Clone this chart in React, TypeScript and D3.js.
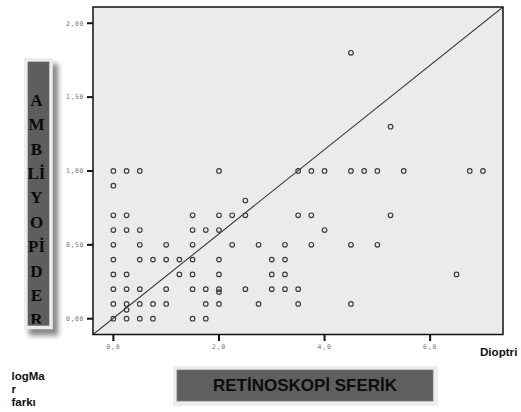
import React from "react";
import * as d3 from "d3";

// Data: Retinoskopi sferik (Dioptri) vs logMAR farkı
const retinoskopi: number[] = [
  0, 0, 0, 0, 0, 0, 0, 0, 0, 0,
  0.25, 0.25, 0.25, 0.25, 0.25, 0.25, 0.25, 0.25,
  0.5, 0.5, 0.5, 0.5, 0.5, 0.5, 0.5,
  0.75, 0.75, 0.75,
  1.0, 1.0, 1.0, 1.0,
  1.25, 1.25,
  1.5, 1.5, 1.5, 1.5, 1.5, 1.5, 1.5,
  1.75, 1.75, 1.75, 1.75,
  2.0, 2.0, 2.0, 2.0, 2.0, 2.0, 2.0, 2.0,
  2.25, 2.25,
  2.5, 2.5, 2.5,
  2.75, 2.75,
  3.0, 3.0, 3.0,
  3.25, 3.25, 3.25, 3.25,
  3.5, 3.5, 3.5, 3.5,
  3.75, 3.75, 3.75,
  4.0, 4.0,
  4.5, 4.5, 4.5, 4.5,
  4.75,
  5.0, 5.0,
  5.25, 5.25,
  5.5,
  6.5,
  6.75,
  7.0,
];
const logmar: number[] = [
  1.0, 0.9, 0.7, 0.6, 0.5, 0.4, 0.3, 0.2, 0.1, 0.0,
  1.0, 0.7, 0.6, 0.3, 0.2, 0.1, 0.06, 0.0,
  1.0, 0.6, 0.5, 0.4, 0.2, 0.1, 0.0,
  0.4, 0.1, 0.0,
  0.5, 0.4, 0.2, 0.1,
  0.4, 0.3,
  0.7, 0.6, 0.5, 0.4, 0.3, 0.2, 0.0,
  0.6, 0.2, 0.1, 0.0,
  1.0, 0.7, 0.6, 0.4, 0.3, 0.2, 0.18, 0.1,
  0.7, 0.5,
  0.8, 0.7, 0.2,
  0.5, 0.1,
  0.4, 0.3, 0.2,
  0.5, 0.4, 0.3, 0.2,
  1.0, 0.7, 0.2, 0.1,
  1.0, 0.7, 0.5,
  1.0, 0.6,
  1.8, 1.0, 0.5, 0.1,
  1.0,
  1.0, 0.5,
  1.3, 0.7,
  1.0,
  0.3,
  1.0,
  1.0,
];

const xTicks: number[] = [0, 2, 4, 6];
const xTickLabels: string[] = ["0,0", "2,0", "4,0", "6,0"];
const yTicks: number[] = [0, 0.5, 1.0, 1.5, 2.0];
const yTickLabels: string[] = ["0,00", "0,50", "1,00", "1,50", "2,00"];

const yTitleLines: string[] = ["A", "M", "B", "Lİ", "Y", "O", "Pİ", "D", "E", "R"];
const xTitle = "RETİNOSKOPİ SFERİK";
const unitLabel = "Dioptri";
const yUnitLines: string[] = ["logMa", "r", "farkı"];

const W = 521;
const H = 412;
const plot = { left: 93, right: 503, top: 7, bottom: 334.5 };

export default function App() {
  const x = d3.scaleLinear().domain([-0.386, 7.38]).range([plot.left, plot.right]);
  const y = d3.scaleLinear().domain([-0.107, 2.11]).range([plot.bottom, plot.top]);
  const [x0, x1] = x.domain();
  const [y0, y1] = y.domain();
  const diag = d3.line<[number, number]>().x((d) => x(d[0])).y((d) => y(d[1]));

  const mono = "'DejaVu Sans Mono', monospace";
  const sans = "'Liberation Sans', Arial, sans-serif";
  const serif = "'Liberation Serif', 'Times New Roman', serif";

  const lb = { x: 27.7, y: 61.7, w: 21.6, h: 264 };

  return (
    <svg
      width={W}
      height={H}
      viewBox={`0 0 ${W} ${H}`}
      style={{ position: "absolute", left: 0, top: 0, background: "#fff" }}
    >
      <defs>
        <filter id="sh" x="-50%" y="-50%" width="200%" height="200%">
          <feGaussianBlur stdDeviation="2.5" />
        </filter>
        <clipPath id="lbclip">
          <rect x={lb.x} y={lb.y} width={lb.w} height={lb.h - 2} />
        </clipPath>
        <clipPath id="plotclip">
          <rect x={plot.left} y={plot.top} width={plot.right - plot.left} height={plot.bottom - plot.top} />
        </clipPath>
      </defs>

      {/* plot area */}
      <rect
        x={plot.left}
        y={plot.top}
        width={plot.right - plot.left}
        height={plot.bottom - plot.top}
        fill="#ebebeb"
      />
      <path
        d={diag([[x0, y0], [x1, y1]]) || ""}
        stroke="#3a3a3a"
        strokeWidth={1.1}
        fill="none"
        clipPath="url(#plotclip)"
      />
      {retinoskopi.map((v, i) => (
        <circle
          key={i}
          cx={x(v)}
          cy={y(logmar[i])}
          r={2.3}
          fill="none"
          stroke="#3c3c3c"
          strokeWidth={1.15}
        />
      ))}
      <rect
        x={plot.left}
        y={plot.top}
        width={plot.right - plot.left}
        height={plot.bottom - plot.top}
        fill="none"
        stroke="#111"
        strokeWidth={1.5}
      />

      {/* y axis ticks */}
      {yTicks.map((t, i) => (
        <g key={"y" + i}>
          <line x1={plot.left - 6} x2={plot.left} y1={y(t)} y2={y(t)} stroke="#111" strokeWidth={2} />
          <text
            x={84}
            y={y(t) + 2.3}
            textAnchor="end"
            fontFamily={mono}
            fontSize={6.5}
            letterSpacing={0.6}
            fill="#777"
          >
            {yTickLabels[i]}
          </text>
        </g>
      ))}

      {/* x axis ticks */}
      {xTicks.map((t, i) => (
        <g key={"x" + i}>
          <line x1={x(t)} x2={x(t)} y1={plot.bottom} y2={plot.bottom + 6.5} stroke="#111" strokeWidth={2} />
          <text
            x={x(t)}
            y={349}
            textAnchor="middle"
            fontFamily={mono}
            fontSize={6.5}
            letterSpacing={0.8}
            fill="#777"
          >
            {xTickLabels[i]}
          </text>
        </g>
      ))}

      <text x={480} y={356} fontFamily={sans} fontWeight="bold" fontSize={11.6} fill="#111">
        {unitLabel}
      </text>

      {/* left vertical title box */}
      <rect x={lb.x + 1} y={lb.y + 2} width={lb.w + 8} height={lb.h + 8} fill="#8a8a8a" filter="url(#sh)" />
      <rect x={lb.x - 3.5} y={lb.y - 3.5} width={lb.w + 7} height={lb.h + 7} fill="#ececec" />
      <rect x={lb.x} y={lb.y} width={lb.w} height={lb.h} fill="#5e5e5e" />
      <g clipPath="url(#lbclip)">
        {yTitleLines.map((s, i) => (
          <text
            key={i}
            x={36.5}
            y={100 + i * 24.4 + 5.8}
            textAnchor="middle"
            fontFamily={serif}
            fontWeight="bold"
            fontSize={17}
            fill="#0a0a0a"
          >
            {s}
          </text>
        ))}
      </g>

      {/* y unit label */}
      {yUnitLines.map((s, i) => (
        <text
          key={"u" + i}
          x={11.5}
          y={380 + i * 12.8}
          fontFamily={sans}
          fontWeight="bold"
          fontSize={11.5}
          fill="#111"
        >
          {s}
        </text>
      ))}

      {/* bottom title box */}
      <rect x={173} y={366} width={265} height={40} fill="#ededed" />
      <rect x={177} y={370} width={256} height={31} fill="#5f5f5f" stroke="#7a7a7a" strokeWidth={0.8} />
      <text
        x={305}
        y={391}
        textAnchor="middle"
        fontFamily={sans}
        fontWeight="bold"
        fontSize={17}
        fill="#0d0d0d"
      >
        {xTitle}
      </text>
    </svg>
  );
}
